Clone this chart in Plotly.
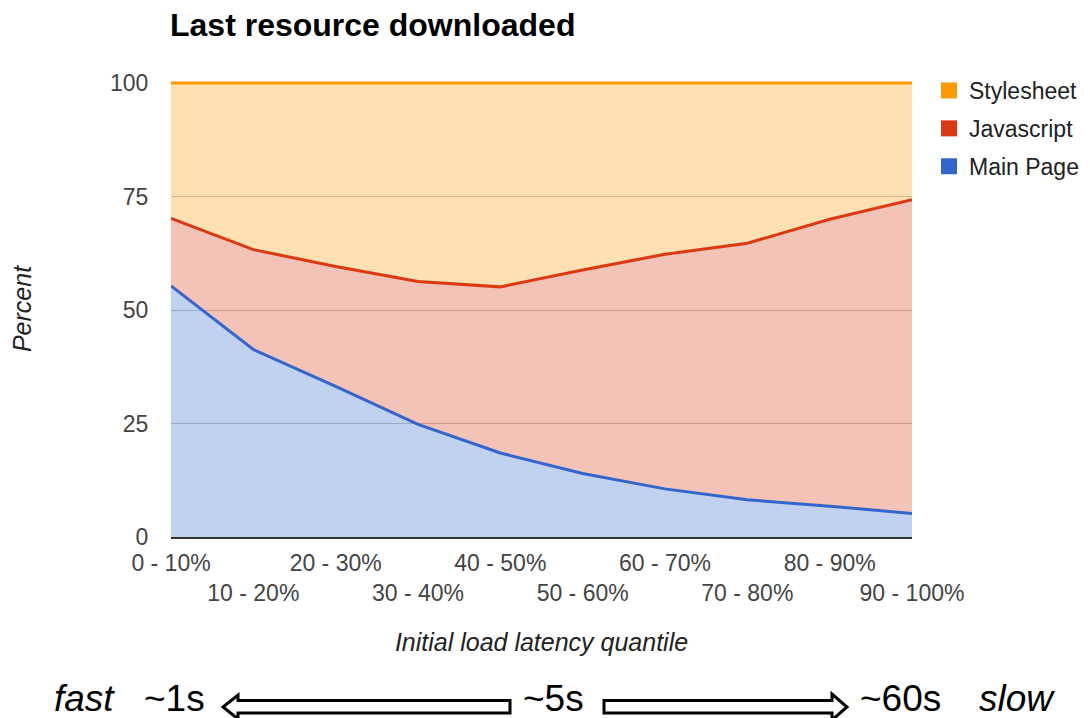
import plotly.graph_objects as go

categories = ["0 - 10%", "10 - 20%", "20 - 30%", "30 - 40%", "40 - 50%",
              "50 - 60%", "60 - 70%", "70 - 80%", "80 - 90%", "90 - 100%"]
main_page = [55.3, 41.3, 33.2, 24.8, 18.5, 14.0, 10.6, 8.2, 6.8, 5.2]
javascript = [14.9, 22.0, 26.4, 31.5, 36.6, 44.8, 51.7, 56.5, 63.2, 69.1]
stylesheet = [29.8, 36.7, 40.4, 43.7, 44.9, 41.2, 37.7, 35.3, 30.0, 25.7]
y_ticks = [0, 25, 50, 75, 100]

series_names = ["Main Page", "Javascript", "Stylesheet"]
series_values = [main_page, javascript, stylesheet]
line_colors = ["#3366CC", "#DC3912", "#FF9900"]
fill_colors = ["rgba(51,102,204,0.3)", "rgba(220,57,18,0.3)", "rgba(255,153,0,0.3)"]

# the page body has an 8px margin: the figure is drawn 8px right/down
OFF = 8
W, H = 1090 - OFF, 718 - OFF
ML, MR, MT, MB = 163, 178, 73, 181
PW, PH = W - ML - MR, H - MT - MB
BASE_Y = H - MB


def px(x):
    """screen x -> paper x"""
    return (x - OFF - ML) / PW


def py(y):
    """screen y -> paper y"""
    return (BASE_Y - (y - OFF)) / PH


fig = go.Figure()
for name, vals, lc, fc in zip(series_names, series_values, line_colors, fill_colors):
    fig.add_trace(go.Scatter(
        x=categories, y=vals, name=name, mode="lines", stackgroup="one",
        line=dict(color=lc, width=3), fillcolor=fc, showlegend=False,
        hoverinfo="x+y+name"))

# legend entries (square swatches), listed top to bottom
for name, lc in zip(series_names[::-1], line_colors[::-1]):
    fig.add_trace(go.Scatter(
        x=[None], y=[None], name=name, mode="markers", legendgroup=name,
        marker=dict(symbol="square", size=16, color=lc), showlegend=True))

tick_text = [c if i % 2 == 0 else "<br>" + c for i, c in enumerate(categories)]

chart_font = "Liberation Sans, Arial, sans-serif"

fig.update_layout(
    width=W, height=H, autosize=False,
    margin=dict(l=ML, r=MR, t=MT, b=MB, autoexpand=False),
    paper_bgcolor="white", plot_bgcolor="white",
    font=dict(family=chart_font, color="#444444", size=23),
    title=dict(text="<b>Last resource downloaded</b>", x=(170 - OFF) / W, xanchor="left",
               xref="container", y=1 - (25 - OFF) / H, yref="container", yanchor="middle",
               pad=dict(l=0, r=0, t=0, b=0),
               font=dict(size=32, color="#000000", family=chart_font)),
    showlegend=True,
    legend=dict(x=px(929), xanchor="left", y=py(69), yanchor="top",
                font=dict(size=23, color="#222222"), traceorder="grouped",
                tracegroupgap=5,
                bgcolor="rgba(0,0,0,0)", itemsizing="trace"),
    xaxis=dict(type="category", range=[0, len(categories) - 1], automargin=False,
               tickmode="array", tickvals=categories, ticktext=tick_text,
               tickangle=0,
               ticks="outside", ticklen=4, tickcolor="rgba(0,0,0,0)",
               tickfont=dict(size=23, color="#444444"),
               showgrid=False, zeroline=False,
               showline=True, linecolor="#333333", linewidth=2,
               title=dict(text="Initial load latency quantile", standoff=29,
                          font=dict(size=25, color="#222222", style="italic"))),
    yaxis=dict(range=[0, 100.45], tickmode="array", tickvals=y_ticks, automargin=False,
               ticks="outside", ticklen=17, tickcolor="rgba(0,0,0,0)",
               tickfont=dict(size=23, color="#444444"),
               showgrid=True, gridcolor="#c4c4c4", gridwidth=1, zeroline=False,
               showline=False,
               title=dict(text="Percent", standoff=72,
                          font=dict(size=25, color="#222222", style="italic"))),
)

# bottom speed annotation row
ty = py(698)
labels = [("fast", 52, "italic"), ("~1s", 142, "normal"), ("~5s", 521, "normal"),
          ("~60s", 858, "normal"), ("slow", 977, "italic")]
for txt, x0, st in labels:
    fig.add_annotation(text=txt, x=px(x0), y=ty, xref="paper", yref="paper",
                       xanchor="left", yanchor="middle", showarrow=False,
                       font=dict(family=chart_font, size=37, color="#000000", style=st))


def path(points):
    s = "M " + " L ".join(f"{px(a):.5f},{py(b):.5f}" for a, b in points) + " Z"
    return s


left_arrow = [(223, 707), (238, 695), (238, 700.5), (510, 700.5), (510, 713),
              (238, 713), (238, 719)]
right_arrow = [(604, 700.5), (832, 700.5), (832, 694), (847, 707), (832, 720),
               (832, 713), (604, 713)]
for pts in (left_arrow, right_arrow):
    fig.add_shape(type="path", path=path(pts), xref="paper", yref="paper",
                  line=dict(color="black", width=3), fillcolor="white")

fig.write_html("out.html")
